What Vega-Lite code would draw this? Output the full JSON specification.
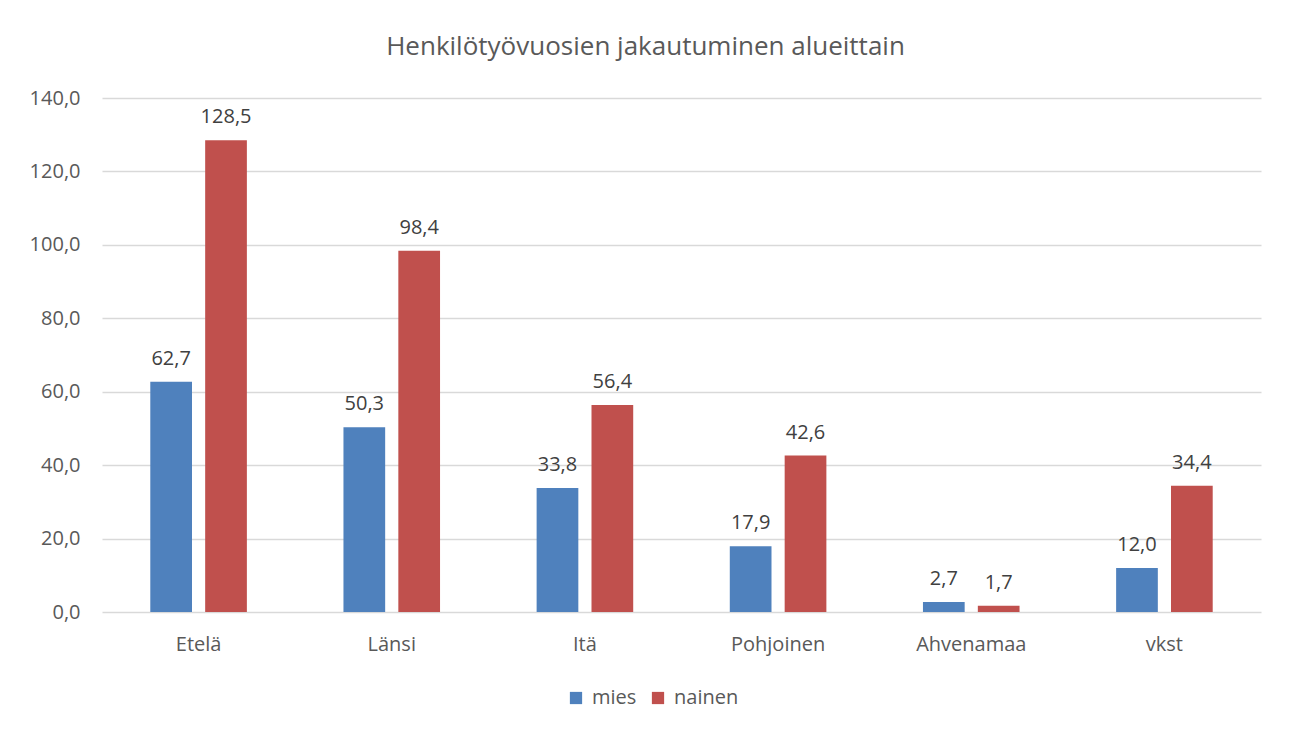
{
  "$schema": "https://vega.github.io/schema/vega-lite/v6.json",
  "autosize": "none",
  "width": 1159,
  "height": 514,
  "padding": {"left": 102, "top": 98, "right": 29, "bottom": 119},
  "background": "white",
  "config": {
    "locale": {"number": {"decimal": ",", "thousands": " ", "grouping": [3], "currency": ["", " €"]}},
    "font": "Open Sans",
    "view": {"stroke": null},
    "title": {"font": "Open Sans", "fontSize": 26, "fontWeight": "normal", "color": "#595959"}
  },
  "title": {"text": "Henkilötyövuosien jakautuminen alueittain", "anchor": "middle", "dx": -36, "offset": 28},
  "data": {
    "values": [
      {"alue": "Etelä", "sukupuoli": "mies", "arvo": 62.7},
      {"alue": "Etelä", "sukupuoli": "nainen", "arvo": 128.5},
      {"alue": "Länsi", "sukupuoli": "mies", "arvo": 50.3},
      {"alue": "Länsi", "sukupuoli": "nainen", "arvo": 98.4},
      {"alue": "Itä", "sukupuoli": "mies", "arvo": 33.8},
      {"alue": "Itä", "sukupuoli": "nainen", "arvo": 56.4},
      {"alue": "Pohjoinen", "sukupuoli": "mies", "arvo": 17.9},
      {"alue": "Pohjoinen", "sukupuoli": "nainen", "arvo": 42.6},
      {"alue": "Ahvenamaa", "sukupuoli": "mies", "arvo": 2.7},
      {"alue": "Ahvenamaa", "sukupuoli": "nainen", "arvo": 1.7},
      {"alue": "vkst", "sukupuoli": "mies", "arvo": 12.0},
      {"alue": "vkst", "sukupuoli": "nainen", "arvo": 34.4}
    ]
  },
  "encoding": {
    "x": {
      "field": "alue", "type": "nominal", "sort": null,
      "scale": {"paddingInner": 0.5, "paddingOuter": 0.25},
      "axis": {"title": null, "labelAngle": 0, "domain": false, "ticks": false, "labelPadding": 22, "labelFontSize": 20, "labelColor": "#595959", "labelFont": "Open Sans"}
    },
    "xOffset": {"field": "sukupuoli", "type": "nominal", "scale": {"paddingInner": 0.24, "paddingOuter": 0}},
    "y": {
      "field": "arvo", "type": "quantitative",
      "scale": {"domain": [0, 140], "nice": false},
      "axis": {"title": null, "values": [0, 20, 40, 60, 80, 100, 120, 140], "format": ".1f", "domain": false, "ticks": false, "labelPadding": 22, "labelFontSize": 20, "labelColor": "#595959", "labelFont": "Open Sans", "gridColor": "#D9D9D9", "gridWidth": 1.5}
    }
  },
  "layer": [
    {
      "mark": {"type": "bar"},
      "encoding": {
        "color": {
          "field": "sukupuoli", "type": "nominal",
          "scale": {"domain": ["mies", "nainen"], "range": ["#4F81BD", "#C0504D"]},
          "legend": {"title": null, "orient": "none", "direction": "horizontal", "legendX": 464, "legendY": 590, "symbolType": "square", "symbolSize": 150, "symbolStrokeWidth": 0, "labelFontSize": 20, "labelColor": "#595959", "labelFont": "Open Sans", "columnPadding": 11, "labelOffset": 6}
        }
      }
    },
    {
      "mark": {"type": "text", "baseline": "bottom", "dy": -13, "fontSize": 20, "color": "#404040", "font": "Open Sans"},
      "encoding": {
        "text": {"field": "arvo", "type": "quantitative", "format": ".1f"}
      }
    }
  ]
}
